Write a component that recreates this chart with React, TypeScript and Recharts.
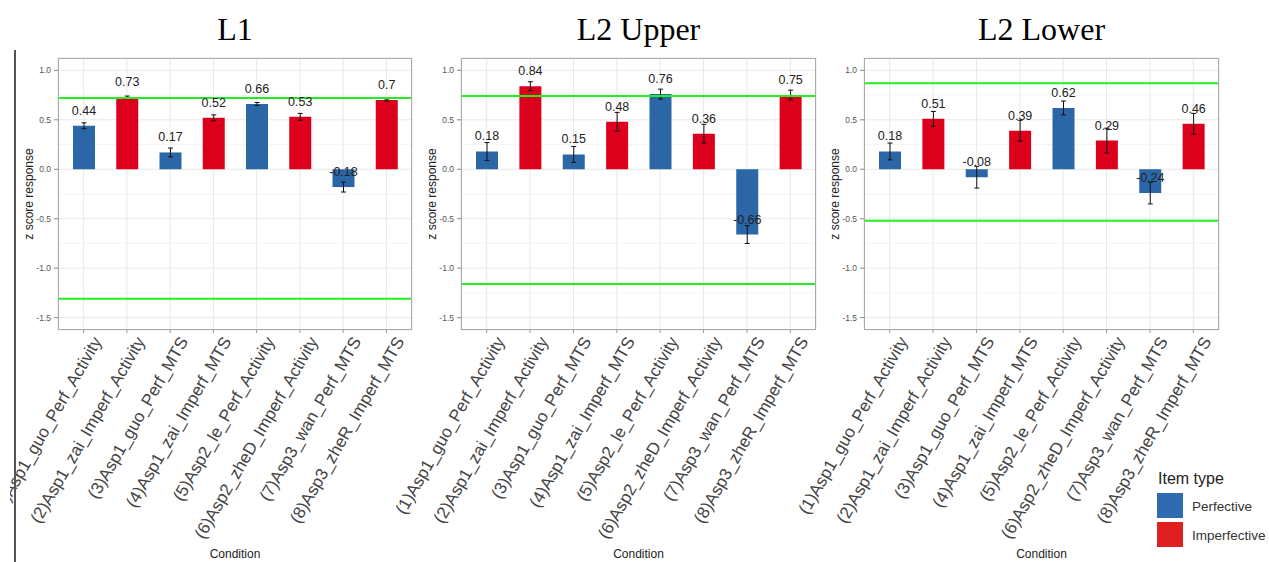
import React from "react";
import {
  BarChart,
  Bar,
  XAxis,
  YAxis,
  CartesianGrid,
  ReferenceLine,
  ErrorBar,
  Cell,
  LabelList,
} from "recharts";

const conditions = [
  "(1)Asp1_guo_Perf_Activity",
  "(2)Asp1_zai_Imperf_Activity",
  "(3)Asp1_guo_Perf_MTS",
  "(4)Asp1_zai_Imperf_MTS",
  "(5)Asp2_le_Perf_Activity",
  "(6)Asp2_zheD_Imperf_Activity",
  "(7)Asp3_wan_Perf_MTS",
  "(8)Asp3_zheR_Imperf_MTS",
];
const itemTypes = [
  "Perfective",
  "Imperfective",
  "Perfective",
  "Imperfective",
  "Perfective",
  "Imperfective",
  "Perfective",
  "Imperfective",
];

const l1Means = [0.44, 0.73, 0.17, 0.52, 0.66, 0.53, -0.18, 0.7];
const l1Errors = [0.03, 0.01, 0.045, 0.03, 0.015, 0.035, 0.05, 0.01];
const l1Bounds = [0.72, -1.31];

const l2UpperMeans = [0.18, 0.84, 0.15, 0.48, 0.76, 0.36, -0.66, 0.75];
const l2UpperErrors = [0.09, 0.045, 0.08, 0.095, 0.05, 0.095, 0.09, 0.05];
const l2UpperBounds = [0.74, -1.16];

const l2LowerMeans = [0.18, 0.51, -0.08, 0.39, 0.62, 0.29, -0.24, 0.46];
const l2LowerErrors = [0.085, 0.075, 0.11, 0.105, 0.07, 0.125, 0.11, 0.105];
const l2LowerBounds = [0.87, -0.52];

const yTicks = [-1.5, -1, -0.5, 0, 0.5, 1];
const yMinorTicks = [-1.25, -0.75, -0.25, 0.25, 0.75];
const yDomain: [number, number] = [-1.625, 1.125];

const BLUE = "#2b66a6";
const RED = "#dc001c";
const GREEN = "#22ee22";
const SANS = "'Liberation Sans', Arial, sans-serif";

// layout
const CHART_TOP = 50;
const CHART_H = 512;
const PLOT_TOP = 58;
const PLOT_BOTTOM = 330;

const panels = [
  { title: "L1", left: 10, plotLeft: 58, plotRight: 412, means: l1Means, errors: l1Errors, bounds: l1Bounds },
  { title: "L2 Upper", left: 370, plotLeft: 461, plotRight: 816, means: l2UpperMeans, errors: l2UpperErrors, bounds: l2UpperBounds },
  { title: "L2 Lower", left: 775, plotLeft: 864, plotRight: 1219, means: l2LowerMeans, errors: l2LowerErrors, bounds: l2LowerBounds },
];

function CondTick(props: any) {
  const { x, y, payload } = props;
  return (
    <text
      transform={`translate(${x + 8},${y}) rotate(-60)`}
      textAnchor="end"
      dy="0.72em"
      fontSize={17}
      fontFamily={SANS}
      fill="#444"
    >
      {payload.value}
    </text>
  );
}

function ValueLabel(props: any) {
  const { x, y, width, height, value } = props;
  const end = value >= 0 ? Math.min(y, y + height) : Math.max(y, y + height);
  return (
    <text
      x={x + width / 2}
      y={end - 15}
      textAnchor="middle"
      dominantBaseline="central"
      fontSize={12.5}
      fontFamily={SANS}
      fill="#222"
    >
      {value}
    </text>
  );
}

function Panel({ left, plotLeft, plotRight, means, errors, bounds }: any) {
  const data = conditions.map((cond, i) => ({
    cond,
    mean: means[i],
    err: errors[i],
    type: itemTypes[i],
  }));
  const rightPad = 8;
  return (
    <div style={{ position: "absolute", left, top: CHART_TOP }}>
      <BarChart
        width={plotRight - left + rightPad}
        height={CHART_H}
        data={data}
        margin={{ top: PLOT_TOP - CHART_TOP, right: rightPad, bottom: 0, left: 0 }}
      >
        <CartesianGrid
          horizontalValues={yMinorTicks}
          vertical={false}
          stroke="#efefef"
          strokeWidth={0.6}
        />
        <CartesianGrid stroke="#e8e8e8" strokeWidth={1} />
        <XAxis
          dataKey="cond"
          interval={0}
          height={CHART_TOP + CHART_H - PLOT_BOTTOM}
          padding={{ left: 4, right: 4 }}
          axisLine={false}
          tickSize={3}
          tickMargin={2}
          tickLine={{ stroke: "#999" }}
          tick={<CondTick />}
        />
        <YAxis
          type="number"
          domain={yDomain}
          ticks={yTicks}
          allowDataOverflow
          width={plotLeft - left}
          axisLine={false}
          tickSize={4}
          tickMargin={3}
          tickLine={{ stroke: "#888" }}
          tickFormatter={(v: number) => v.toFixed(1)}
          tick={{ fill: "#555", fontSize: 8.5, fontFamily: SANS }}
        />
        <Bar dataKey="mean" barSize={22} isAnimationActive={false}>
          {data.map((d) => (
            <Cell key={d.cond} fill={d.type === "Perfective" ? BLUE : RED} />
          ))}
          <ErrorBar dataKey="err" direction="y" width={2.5} stroke="#111" strokeWidth={1} />
          <LabelList dataKey="mean" content={<ValueLabel />} />
        </Bar>
        {bounds.map((b: number) => (
          <ReferenceLine key={b} y={b} stroke={GREEN} strokeWidth={2} />
        ))}
      </BarChart>
    </div>
  );
}

export default function App() {
  return (
    <div
      style={{
        position: "absolute",
        left: 0,
        top: 0,
        width: 1269,
        height: 562,
        background: "#fff",
        overflow: "hidden",
      }}
    >
      {panels.map((p) => (
        <Panel key={p.title} {...p} />
      ))}
      <svg
        width={1269}
        height={562}
        style={{ position: "absolute", left: 0, top: 0, pointerEvents: "none" }}
      >
        <rect x={14} y={50} width={2} height={512} fill="#555" />
        {panels.map((p) => {
          const cx = (p.plotLeft + p.plotRight) / 2;
          const cy = (PLOT_TOP + PLOT_BOTTOM) / 2;
          return (
            <g key={p.title}>
              <rect
                x={p.plotLeft + 0.5}
                y={PLOT_TOP + 0.5}
                width={p.plotRight - p.plotLeft - 1}
                height={PLOT_BOTTOM - PLOT_TOP - 1}
                fill="none"
                stroke="#aaa"
              />
              <text
                x={cx}
                y={40}
                textAnchor="middle"
                fontSize={32}
                fontFamily="'Liberation Serif', 'Times New Roman', serif"
                fill="#000"
              >
                {p.title}
              </text>
              <text
                transform={`translate(${p.plotLeft - 29},${cy}) rotate(-90)`}
                textAnchor="middle"
                dominantBaseline="central"
                fontSize={12}
                fontFamily={SANS}
                fill="#222"
              >
                z score response
              </text>
              <text x={cx} y={558} textAnchor="middle" fontSize={12} fontFamily={SANS} fill="#222">
                Condition
              </text>
            </g>
          );
        })}
        <text x={1158} y={484} fontSize={16} fontFamily={SANS} fill="#222">
          Item type
        </text>
        <rect x={1157} y={493} width={26} height={25} fill="#2f6bb0" />
        <rect x={1157} y={522} width={26} height={25} fill="#e0201f" />
        <text x={1192} y={506} dominantBaseline="central" fontSize={13.5} fontFamily={SANS} fill="#333">
          Perfective
        </text>
        <text x={1192} y={535} dominantBaseline="central" fontSize={13.5} fontFamily={SANS} fill="#333">
          Imperfective
        </text>
      </svg>
    </div>
  );
}
